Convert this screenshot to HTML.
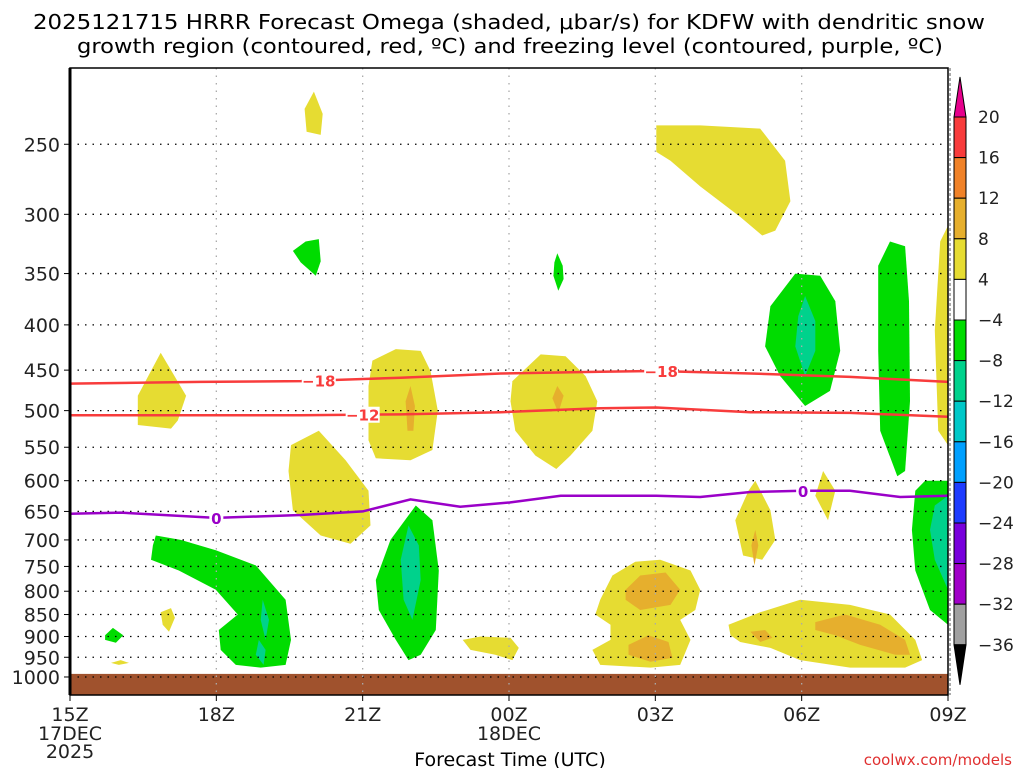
<!DOCTYPE html>
<html><head><meta charset="utf-8"><style>
html,body{margin:0;padding:0;background:#fff;}
svg{display:block;font-family:"DejaVu Sans","Liberation Sans",sans-serif;}
</style></head><body>
<svg id="chart" width="1024" height="768" viewBox="0 0 1024 768" xmlns="http://www.w3.org/2000/svg">
<text x="33" y="29" font-size="20" textLength="952" lengthAdjust="spacingAndGlyphs">2025121715 HRRR Forecast Omega (shaded, μbar/s) for KDFW with dendritic snow</text>
<text x="77" y="53" font-size="20" textLength="866" lengthAdjust="spacingAndGlyphs">growth region (contoured, red, ºC) and freezing level (contoured, purple, ºC)</text>
<g id="fills"></g>
<g id="grid"></g>
<g id="lines"></g>
<g id="axes"></g>
<g id="cbar"></g>
<text x="510" y="766" font-size="19" text-anchor="middle">Forecast Time (UTC)</text>
<text x="1012" y="765" font-size="15" fill="#e03030" text-anchor="end">coolwx.com/models</text>
</svg>
<script>
// ---- data ----
const xTickHours = [0,3,6,9,12,15,18];
const xTickLabels = ["15Z","18Z","21Z","00Z","03Z","06Z","09Z"];
const yTickValues = [250,300,350,400,450,500,550,600,650,700,750,800,850,900,950,1000];
const cbarLevels = ["20","16","12","8","4","-4","-8","-12","-16","-20","-24","-28","-32","-36"];
const cbarColors = ["#f83c3c","#f08228","#e6af2d","#e6dc32","#ffffff","#00dc00","#00d28c","#00c8c8","#00a0ff","#1e3cff","#7800dc","#a000c8","#a0a0a0"];
const minus18Hours = [0,2.68,4.73,6.78,8.83,10.87,12.02,13.95,15.99,18];
const minus18Pres = [466,464,463,459,454,452,451,454,458,464];
const minus12Hours = [0,2.68,4.73,6.78,8.83,10.87,12.02,13.95,15.99,18];
const minus12Pres = [506,506,506,505,502,497,496,502,503,508];
const zeroHours = [0,1.04,2.99,4.73,6.0,6.98,8.0,9.01,10.06,12.02,12.92,13.95,15.01,15.99,17.02,18];
const zeroPres = [654,652,661,656,650,630,642,635,624,624,626,618,616,616,626,624];
const groundPres = 992;
const yellowA = [[5.0,218],[5.18,231],[5.14,244],[4.85,242],[4.81,228]];
const yellowB = [[12.02,238],[12.92,238],[14.15,240],[14.66,261],[14.77,290],[14.46,313],[14.19,317],[13.74,302],[12.92,279],[12.31,261],[12.02,255]];
const greenC = [[4.83,322],[5.1,320],[5.14,339],[5.04,352],[4.73,340],[4.57,330]];
const greenD = [[9.99,332],[10.1,343],[10.12,355],[10.01,366],[9.91,352],[9.93,340]];
const yellowE = [[1.86,430],[2.38,481],[2.21,513],[2.07,524],[1.39,519],[1.39,481]];
const yellowF = [[6.2,439],[6.68,426],[7.19,428],[7.39,451],[7.54,500],[7.43,554],[6.98,569],[6.27,566],[6.12,540],[6.12,469]];
const orangeF = [[6.98,469],[7.07,494],[7.04,527],[6.92,527],[6.88,488]];
const yellowG = [[4.53,547],[5.1,527],[5.65,569],[6.12,616],[6.16,674],[5.75,707],[5.14,692],[4.57,648],[4.48,585]];
const yellowH = [[9.07,463],[9.65,432],[10.16,434],[10.57,457],[10.81,488],[10.71,527],[10.26,562],[9.97,582],[9.54,562],[9.13,527],[9.03,488]];
const orangeH = [[9.99,469],[10.12,481],[10.01,503],[9.89,484]];
const greenI = [[14.36,381],[14.87,350],[15.38,352],[15.69,376],[15.79,428],[15.58,475],[15.07,494],[14.56,457],[14.25,423]];
const tealI = [[15.07,371],[15.28,396],[15.28,428],[15.07,457],[14.87,423],[14.93,391]];
const greenJ = [[16.57,343],[16.81,322],[17.12,326],[17.2,376],[17.22,488],[17.12,585],[16.96,593],[16.61,527],[16.57,428]];
const yellowK = [[17.84,322],[18,309],[18,547],[17.8,527],[17.73,406]];
const yellowL = [[14.05,600],[14.36,648],[14.46,700],[14.19,737],[13.8,729],[13.64,665],[13.91,616]];
const orangeL = [[14.05,682],[14.11,710],[14.03,748],[13.97,710]];
const yellowM = [[15.44,585],[15.69,616],[15.54,665],[15.28,624]];
const greenN = [[17.53,600],[18,600],[18,873],[17.63,840],[17.33,758],[17.26,682],[17.33,616]];
const tealN = [[17.73,640],[18,624],[18,797],[17.73,737],[17.63,682]];
const greenO = [[1.76,692],[2.27,700],[2.99,719],[3.81,748],[4.42,818],[4.53,908],[4.42,969],[3.91,976],[3.4,969],[3.09,932],[3.05,885],[3.44,850],[2.99,797],[2.23,758],[1.66,737],[1.7,710]];
const tealO1 = [[3.95,818],[4.08,862],[4.01,908],[3.91,862]];
const tealO2 = [[3.87,908],[4.01,932],[3.97,969],[3.81,944]];
const greenP = [[7.09,640],[7.43,665],[7.56,758],[7.5,885],[7.19,944],[6.94,957],[6.68,908],[6.33,840],[6.27,777],[6.57,700]];
const tealP = [[6.94,674],[7.15,710],[7.19,777],[7.02,862],[6.84,818],[6.78,737]];
const yellowQ = [[11.12,768],[11.59,741],[12.1,737],[12.72,758],[12.92,797],[12.82,840],[12.51,862],[12.72,908],[12.51,969],[11.9,976],[10.87,969],[10.71,932],[11.08,908],[11.08,873],[10.77,850],[10.87,818]];
const orangeQ1 = [[11.39,797],[11.69,768],[12.21,762],[12.51,797],[12.31,829],[11.69,840],[11.39,818]];
const orangeQ2 = [[11.45,920],[11.86,897],[12.27,913],[12.35,951],[11.9,961],[11.45,944]];
const yellowR = [[13.5,873],[14.15,845],[14.97,818],[15.99,829],[16.81,850],[17.33,908],[17.47,957],[17.12,976],[15.99,976],[14.97,957],[14.36,927],[13.74,913],[13.54,897]];
const orangeR1 = [[15.28,867],[15.89,850],[16.61,873],[17.12,908],[17.22,944],[16.92,944],[16.2,920],[15.69,897],[15.28,885]];
const orangeR2 = [[13.95,889],[14.25,885],[14.4,903],[14.15,913]];
const yellowS = [[8.05,908],[8.42,900],[9.03,903],[9.2,927],[9.07,957],[8.72,944],[8.21,932]];
const yellowT = [[1.86,845],[2.07,836],[2.15,857],[2.03,889],[1.9,873]];
const greenU = [[0.72,897],[0.88,880],[1.09,897],[0.94,915],[0.72,908]];
const yellowV = [[0.84,964],[1.04,957],[1.21,964],[1.0,969]];

const regions = [
 ["yellow",yellowA],["yellow",yellowB],["green",greenC],["green",greenD],["yellow",yellowE],
 ["yellow",yellowF],["orange",orangeF],["yellow",yellowG],["yellow",yellowH],["orange",orangeH],
 ["green",greenI],["teal",tealI],["green",greenJ],["yellow",yellowK],["yellow",yellowL],["orange",orangeL],
 ["yellow",yellowM],["green",greenN],["teal",tealN],["green",greenO],["teal",tealO1],["teal",tealO2],
 ["green",greenP],["teal",tealP],["yellow",yellowQ],["orange",orangeQ1],["orange",orangeQ2],
 ["yellow",yellowR],["orange",orangeR1],["orange",orangeR2],["yellow",yellowS],["yellow",yellowT],
 ["green",greenU],["yellow",yellowV]
];
const fillColor = {yellow:"#e6dc32",orange:"#e6af2d",green:"#00dc00",teal:"#00d28c"};

const X0=70, X1=948, Y0=68, Y1=695, PTOP=205, PBOT=1048;
const xs = h => X0 + (X1-X0)*h/18;
const ys = p => Y0 + (Y1-Y0)*(Math.log(p)-Math.log(PTOP))/(Math.log(PBOT)-Math.log(PTOP));
const NS="http://www.w3.org/2000/svg";
function mk(tag, parent, attrs){const e=document.createElementNS(NS,tag);for(const k in attrs)e.setAttribute(k,attrs[k]);parent.appendChild(e);return e;}

const fills=document.getElementById('fills');
regions.forEach(r=>{
  const pts=r[1].map(q=>xs(q[0]).toFixed(1)+","+ys(q[1]).toFixed(1)).join(" ");
  const e=mk('polygon',fills,{points:pts,fill:fillColor[r[0]]});
  
  
});
const gy=ys(groundPres);
const ground=mk('rect',fills,{x:X0,y:gy,width:X1-X0,height:Y1-gy,fill:"#a0522d"});



const grid=document.getElementById('grid');
const axes=document.getElementById('axes');
yTickValues.forEach(v=>{
  const y=ys(v);
  const g=mk('line',grid,{x1:X0,x2:X1,y1:y,y2:y,stroke:"#000","stroke-width":1.3,"stroke-dasharray":"1.5 6"});
  
  
  const t=mk('text',axes,{x:60,y:y+7,"font-size":19,"text-anchor":"end",fill:"#222"});
  t.textContent=v;
  
  
  mk('line',axes,{x1:X0-6,x2:X0,y1:y,y2:y,stroke:"#000","stroke-width":1});
});
xTickHours.forEach((h,i)=>{
  const x=xs(h);
  if(i>0&&i<6){const g=mk('line',grid,{x1:x,x2:x,y1:Y0,y2:Y1,stroke:"#aaa","stroke-width":1.3,"stroke-dasharray":"1.5 6"});
  
  }
  mk('line',axes,{x1:x,x2:x,y1:Y1,y2:Y1+6,stroke:"#000","stroke-width":1});
  const t=mk('text',axes,{x:x,y:721,"font-size":19,"text-anchor":"middle",fill:"#222"});
  t.textContent=xTickLabels[i];
  
  
});
[["17DEC",xs(0),740],["2025",xs(0),758],["18DEC",xs(9),740]].forEach(d=>{
  const t=mk('text',axes,{x:d[1],y:d[2],"font-size":19,"text-anchor":"middle",fill:"#222"});
  t.textContent=d[0];
  
  
});
mk('rect',axes,{x:X0,y:Y0,width:X1-X0,height:Y1-Y0,fill:"none",stroke:"#000","stroke-width":1.5});
mk('line',axes,{x1:X0,x2:X0,y1:Y0,y2:Y1,stroke:"#000","stroke-width":3});
mk('line',axes,{x1:X1+2,x2:X1+2,y1:Y0,y2:Y1,stroke:"#555","stroke-width":1,"stroke-dasharray":"3 2"});

const lines=document.getElementById('lines');
function drawLine(hs,ps,color,name){
  const d=hs.map((h,i)=>(i?"L":"M")+xs(h).toFixed(1)+","+ys(ps[i]).toFixed(1)).join(" ");
  const e=mk('path',lines,{d:d,fill:"none",stroke:color,"stroke-width":2.5});
  
  
}
function interp(hs,ps,h){for(let i=1;i<hs.length;i++){if(h<=hs[i]){const f=(h-hs[i-1])/(hs[i]-hs[i-1]);return ps[i-1]+f*(ps[i]-ps[i-1]);}}return ps[ps.length-1];}
function label(hs,ps,h,txt,color,name){
  const x=xs(h), y=ys(interp(hs,ps,h));
  const w=txt.length*10+4;
  mk('rect',lines,{x:x-w/2,y:y-8,width:w,height:16,fill:"#fff"});
  const t=mk('text',lines,{x:x,y:y+6,"font-size":15,"font-weight":"bold","text-anchor":"middle",fill:color});
  t.textContent=txt;
  
  
}
drawLine(minus18Hours,minus18Pres,"#f83c3c","contour-minus-18");
drawLine(minus12Hours,minus12Pres,"#f83c3c","contour-minus-12");
drawLine(zeroHours,zeroPres,"#9a00c8","freezing-level-contour");
label(minus18Hours,minus18Pres,5.1,"−18","#f83c3c","contour-label-minus-18");
label(minus18Hours,minus18Pres,12.12,"−18","#f83c3c","contour-label-minus-18");
label(minus12Hours,minus12Pres,6.0,"−12","#f83c3c","contour-label-minus-12");
label(zeroHours,zeroPres,3.0,"0","#9a00c8","freezing-label-0");
label(zeroHours,zeroPres,15.03,"0","#9a00c8","freezing-label-0");

const cb=document.getElementById('cbar');
const CX=954, CW=12, CTOP=117, STEP=40.6;
const tri1=mk('polygon',cb,{points:`${CX},${CTOP} ${CX+CW},${CTOP} ${CX+CW/2},77`,fill:"#e6008c",stroke:"#000","stroke-width":1});


cbarColors.forEach((c,i)=>{
  const r=mk('rect',cb,{x:CX,y:CTOP+i*STEP,width:CW,height:STEP,fill:c,stroke:"#000","stroke-width":1});
  
  
});
const cbBot=CTOP+cbarColors.length*STEP;
const tri2=mk('polygon',cb,{points:`${CX},${cbBot} ${CX+CW},${cbBot} ${CX+CW/2},${cbBot+40}`,fill:"#000",stroke:"#000","stroke-width":1});


cbarLevels.forEach((l,i)=>{
  const t=mk('text',cb,{x:978,y:CTOP+i*STEP+6,"font-size":17,fill:"#222"});
  t.textContent=l.replace("-","−");
  
  
});
</script>
</body></html>
